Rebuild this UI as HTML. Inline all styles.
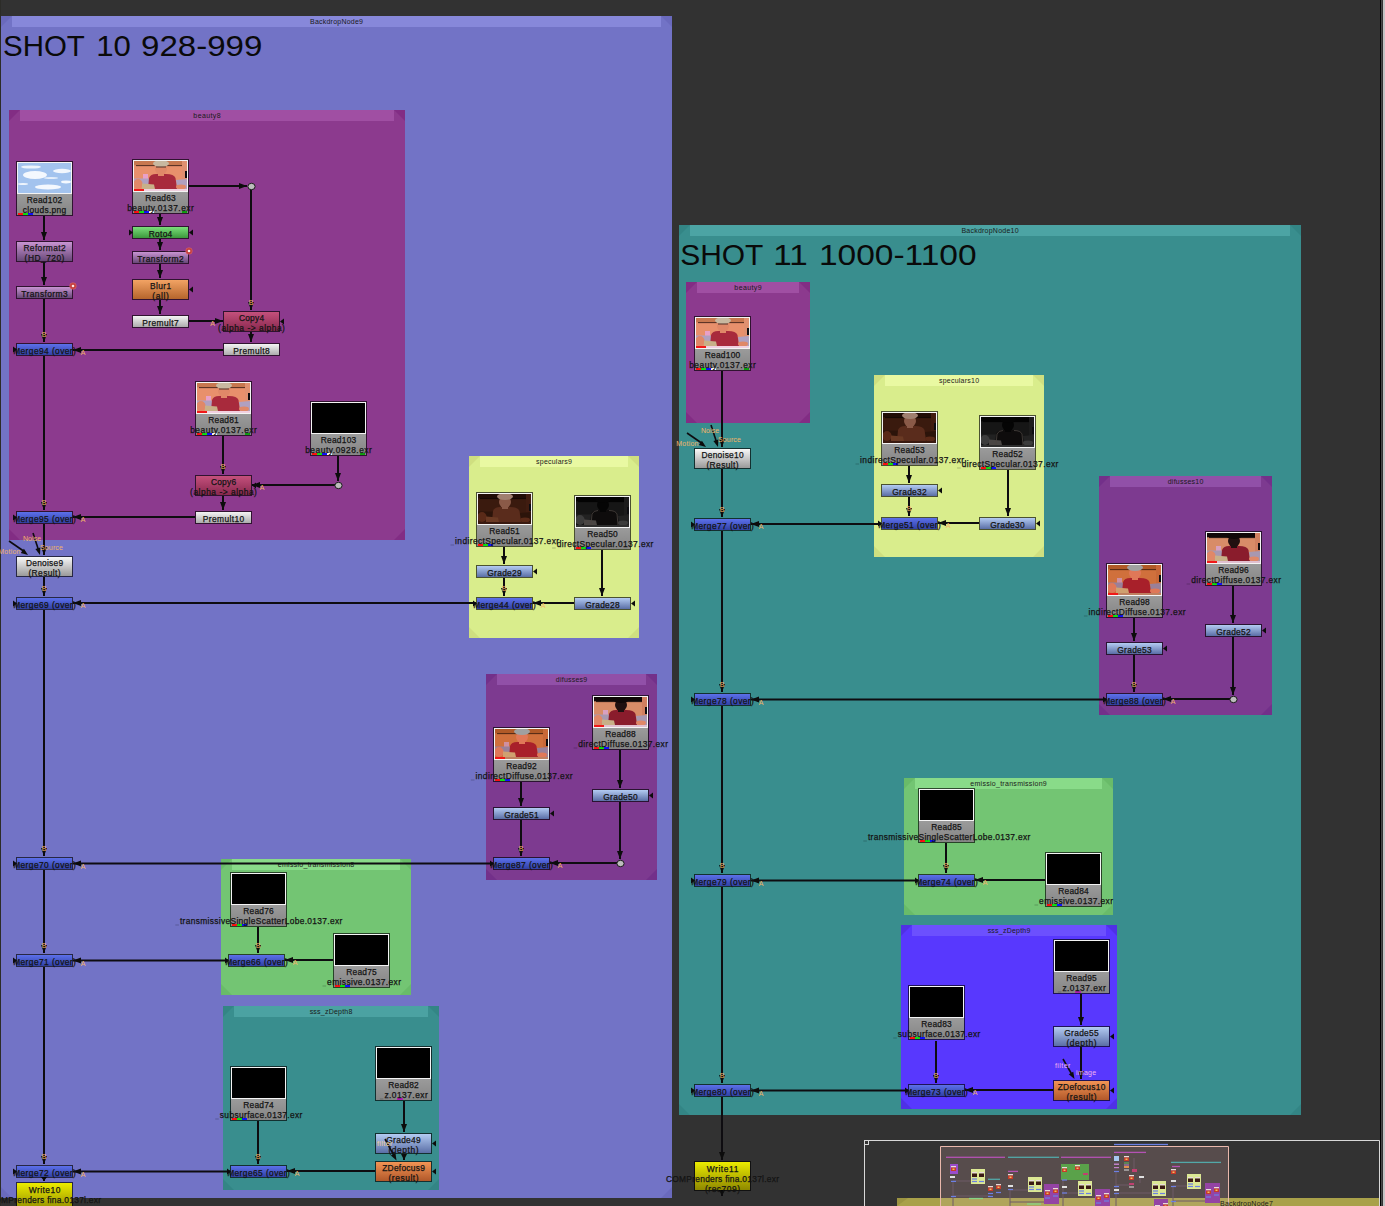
<!DOCTYPE html>
<html><head><meta charset="utf-8"><title>Node Graph</title>
<style>html,body{margin:0;padding:0;background:#323232;overflow:hidden;width:1385px;height:1206px}svg{display:block;position:absolute;left:0;top:0}text{font-family:"Liberation Sans", sans-serif}text.n{stroke:#141414;stroke-width:0.25px}</style></head><body>
<svg width="1385" height="1206" viewBox="0 0 1385 1206">
<defs>
<linearGradient id="g_read" x1="0" y1="0" x2="0" y2="1"><stop offset="0" stop-color="#bcbcbc"/><stop offset="1" stop-color="#858585"/></linearGradient>
<linearGradient id="g_merge" x1="0" y1="0" x2="0" y2="1"><stop offset="0" stop-color="#5c70ea"/><stop offset="1" stop-color="#3141a6"/></linearGradient>
<linearGradient id="g_grade" x1="0" y1="0" x2="0" y2="1"><stop offset="0" stop-color="#b3cbf2"/><stop offset="1" stop-color="#5a6ea6"/></linearGradient>
<linearGradient id="g_trans" x1="0" y1="0" x2="0" y2="1"><stop offset="0" stop-color="#c894d2"/><stop offset="1" stop-color="#684878"/></linearGradient>
<linearGradient id="g_roto" x1="0" y1="0" x2="0" y2="1"><stop offset="0" stop-color="#7ade7a"/><stop offset="1" stop-color="#3c983c"/></linearGradient>
<linearGradient id="g_blur" x1="0" y1="0" x2="0" y2="1"><stop offset="0" stop-color="#f2a364"/><stop offset="1" stop-color="#b5652c"/></linearGradient>
<linearGradient id="g_premult" x1="0" y1="0" x2="0" y2="1"><stop offset="0" stop-color="#f4f4f4"/><stop offset="1" stop-color="#acacac"/></linearGradient>
<linearGradient id="g_copy" x1="0" y1="0" x2="0" y2="1"><stop offset="0" stop-color="#c4507c"/><stop offset="1" stop-color="#88284e"/></linearGradient>
<linearGradient id="g_denoise" x1="0" y1="0" x2="0" y2="1"><stop offset="0" stop-color="#f8f8f8"/><stop offset="1" stop-color="#9a9a9a"/></linearGradient>
<linearGradient id="g_zdef" x1="0" y1="0" x2="0" y2="1"><stop offset="0" stop-color="#f29454"/><stop offset="1" stop-color="#b1582a"/></linearGradient>
<linearGradient id="g_write" x1="0" y1="0" x2="0" y2="1"><stop offset="0" stop-color="#ecec00"/><stop offset="1" stop-color="#8e8800"/></linearGradient>
<symbol id="t_clouds" viewBox="0 0 53 30">
<rect width="53" height="30" fill="#a3c3ee"/>
<ellipse cx="13" cy="4" rx="10" ry="1.6" fill="#eef4fc"/>
<ellipse cx="44" cy="8" rx="9" ry="2.2" fill="#f2f6fd"/>
<ellipse cx="17" cy="12" rx="12" ry="4" fill="#f4f8fe"/>
<ellipse cx="33" cy="15" rx="7" ry="1" fill="#e6eefa"/>
<ellipse cx="48" cy="19" rx="5" ry="1.4" fill="#f4f8fe"/>
<ellipse cx="5" cy="21" rx="5" ry="1" fill="#eef4fc"/>
<ellipse cx="30" cy="24" rx="13" ry="2.5" fill="#f4f8fe"/>
</symbol>
<symbol id="t_beauty" viewBox="0 0 53 30"><rect width="53" height="30" fill="#e8906c"/><rect x="0" y="0" width="53" height="4.3" fill="#c87850"/><rect x="2" y="4.2" width="47" height="0.9" fill="#402018"/><path d="M48 0H53V21L48 19Z" fill="#e09070"/><rect x="51" y="10" width="2" height="7" fill="#0c0c10"/><rect x="9" y="13" width="5" height="5" fill="#e8a0c8"/><path d="M0 17.5H15L16 26H0Z M42 19L53 18V28H43Z" fill="#b0a0c0"/><path d="M14 28L15 17Q16.5 13 22 13H32Q40 13 41.5 17L43 28Z" fill="#a82a3c"/><ellipse cx="27" cy="8" rx="6" ry="6" fill="#e08868"/><rect x="24" y="12" width="6" height="3" fill="#e08868"/><ellipse cx="27" cy="2.6" rx="8" ry="3.4" fill="#c8b8a0"/><ellipse cx="4" cy="23" rx="4.6" ry="5" fill="#e08868"/><path d="M8 22.5L20 23.5L21 28H8Z" fill="#c8b088"/><ellipse cx="47" cy="26" rx="5" ry="2.4" fill="#e08868"/><rect x="0" y="28" width="53" height="2" fill="#f0d0e0"/><rect x="0" y="28" width="10" height="2" fill="#f01818"/><rect x="22" y="5.5" width="10" height="1" fill="#503028"/></symbol>
<symbol id="t_idiff" viewBox="0 0 53 30"><rect width="53" height="30" fill="#d0703c"/><rect x="0" y="0" width="53" height="4.3" fill="#b05a28"/><rect x="2" y="4.2" width="47" height="0.9" fill="#402010"/><path d="M48 0H53V21L48 19Z" fill="#c86838"/><rect x="51" y="10" width="2" height="7" fill="#0c0c10"/><rect x="9" y="13" width="5" height="5" fill="#d090a0"/><path d="M0 17.5H15L16 26H0Z M42 19L53 18V28H43Z" fill="#9a8098"/><path d="M14 28L15 17Q16.5 13 22 13H32Q40 13 41.5 17L43 28Z" fill="#a8202a"/><ellipse cx="27" cy="8" rx="6" ry="6" fill="#e07858"/><rect x="24" y="12" width="6" height="3" fill="#e07858"/><ellipse cx="27" cy="2.6" rx="8" ry="3.4" fill="#a0a0a0"/><ellipse cx="4" cy="23" rx="4.6" ry="5" fill="#e07858"/><path d="M8 22.5L20 23.5L21 28H8Z" fill="#d0a070"/><ellipse cx="47" cy="26" rx="5" ry="2.4" fill="#e07858"/><rect x="0" y="28" width="53" height="2" fill="#c08060"/><rect x="0" y="28" width="10" height="2" fill="#f01818"/></symbol>
<symbol id="t_ddiff" viewBox="0 0 53 30"><rect width="53" height="30" fill="#d88c68"/><rect x="0" y="0" width="53" height="4.3" fill="#100808"/><rect x="2" y="4.2" width="47" height="0.9" fill="#100808"/><path d="M48 0H53V21L48 19Z" fill="#d08060"/><rect x="51" y="10" width="2" height="7" fill="#0c0c10"/><rect x="9" y="13" width="5" height="5" fill="#d8a0c0"/><path d="M0 17.5H15L16 26H0Z M42 19L53 18V28H43Z" fill="#a898b0"/><path d="M14 28L15 17Q16.5 13 22 13H32Q40 13 41.5 17L43 28Z" fill="#8a1c2c"/><ellipse cx="27" cy="8" rx="6" ry="6" fill="#201010"/><rect x="24" y="12" width="6" height="3" fill="#201010"/><ellipse cx="27" cy="2.6" rx="8" ry="3.4" fill="#100808"/><ellipse cx="4" cy="23" rx="4.6" ry="5" fill="#e08868"/><path d="M8 22.5L20 23.5L21 28H8Z" fill="#c8b088"/><ellipse cx="47" cy="26" rx="5" ry="2.4" fill="#e08868"/><rect x="0" y="28" width="53" height="2" fill="#e0c0d0"/><rect x="0" y="28" width="10" height="2" fill="#f01818"/></symbol>
<symbol id="t_ispec" viewBox="0 0 53 30"><rect width="53" height="30" fill="#3a1a0e"/><rect x="0" y="0" width="53" height="4.3" fill="#200c06"/><rect x="2" y="4.2" width="47" height="0.9" fill="#100604"/><path d="M48 0H53V21L48 19Z" fill="#401c10"/><rect x="51" y="10" width="2" height="7" fill="#0c0c10"/><rect x="9" y="13" width="5" height="5" fill="#3a1a0e"/><path d="M0 17.5H15L16 26H0Z M42 19L53 18V28H43Z" fill="#2c140a"/><path d="M14 28L15 17Q16.5 13 22 13H32Q40 13 41.5 17L43 28Z" fill="#5a2c1c"/><ellipse cx="27" cy="8" rx="6" ry="6" fill="#8a5a48"/><rect x="24" y="12" width="6" height="3" fill="#8a5a48"/><ellipse cx="27" cy="2.6" rx="8" ry="3.4" fill="#a08070"/><ellipse cx="4" cy="23" rx="4.6" ry="5" fill="#5a2a18"/><path d="M8 22.5L20 23.5L21 28H8Z" fill="#6a3a24"/><ellipse cx="47" cy="26" rx="5" ry="2.4" fill="#5a2a18"/><rect x="0" y="28" width="53" height="2" fill="#3a1a10"/></symbol>
<symbol id="t_dspec" viewBox="0 0 53 30"><rect width="53" height="30" fill="#161616"/><rect x="0" y="0" width="53" height="4.3" fill="#030303"/><rect x="2" y="4.2" width="47" height="0.9" fill="#020202"/><path d="M48 0H53V21L48 19Z" fill="#1c1c1c"/><rect x="51" y="10" width="2" height="7" fill="#0c0c10"/><rect x="9" y="13" width="5" height="5" fill="#161616"/><path d="M0 17.5H15L16 26H0Z M42 19L53 18V28H43Z" fill="#222222"/><path d="M14 28L15 17Q16.5 13 22 13H32Q40 13 41.5 17L43 28Z" fill="#0e0c0c"/><ellipse cx="27" cy="8" rx="6" ry="6" fill="#050505"/><rect x="24" y="12" width="6" height="3" fill="#050505"/><ellipse cx="27" cy="2.6" rx="8" ry="3.4" fill="#050505"/><ellipse cx="4" cy="23" rx="4.6" ry="5" fill="#3c3c3c"/><path d="M8 22.5L20 23.5L21 28H8Z" fill="#4a4644"/><ellipse cx="47" cy="26" rx="5" ry="2.4" fill="#3c3c3c"/><rect x="0" y="28" width="53" height="2" fill="#2e2e2e"/><path d="M15 28L16 17Q17.5 13.5 22 13.5" fill="none" stroke="#4a4440" stroke-width="0.8"/><path d="M42 28L41 17Q39.5 13.5 33 13.5" fill="none" stroke="#4a4440" stroke-width="0.8"/></symbol>
<symbol id="t_black" viewBox="0 0 53 30"><rect width="53" height="30" fill="#000"/></symbol>
</defs>
<rect x="0" y="0" width="1385" height="1206" fill="#323232"/>
<rect x="0" y="0" width="1" height="1206" fill="#2c2c28"/>
<rect x="1" y="16" width="671" height="1182" fill="#7273c6"/><rect x="12" y="16" width="649" height="11" fill="#8788da"/><path d="M1 16h11L1 27Z" fill="#6a6abd"/><path d="M672 16h-11L672 27Z" fill="#6a6abd"/><path d="M1 1198h11L1 1187Z" fill="#6a6abd"/><path d="M672 1198h-11L672 1187Z" fill="#6a6abd"/><text x="336.5" y="24.0" font-size="7.00" text-anchor="middle" fill="#1a1a1a" textLength="52.9" lengthAdjust="spacing">BackdropNode9</text>
<rect x="9" y="110" width="396" height="430" fill="#8c3a8e"/><rect x="20" y="110" width="374" height="11" fill="#a04fa3"/><path d="M9 110h11L9 121Z" fill="#822d84"/><path d="M405 110h-11L405 121Z" fill="#822d84"/><path d="M9 540h11L9 529Z" fill="#822d84"/><path d="M405 540h-11L405 529Z" fill="#822d84"/><text x="207.0" y="118.0" font-size="7.00" text-anchor="middle" fill="#1a1a1a" textLength="27.3" lengthAdjust="spacing">beauty8</text>
<rect x="469" y="456" width="170" height="182" fill="#d9ed8c"/><rect x="480" y="456" width="148" height="11" fill="#e9f9a2"/><path d="M469 456h11L469 467Z" fill="#cfdf80"/><path d="M639 456h-11L639 467Z" fill="#cfdf80"/><path d="M469 638h11L469 627Z" fill="#cfdf80"/><path d="M639 638h-11L639 627Z" fill="#cfdf80"/><text x="554.0" y="464.0" font-size="7.00" text-anchor="middle" fill="#1a1a1a" textLength="35.9" lengthAdjust="spacing">speculars9</text>
<rect x="486" y="674" width="171" height="206" fill="#7d3a90"/><rect x="497" y="674" width="149" height="11" fill="#9150a8"/><path d="M486 674h11L486 685Z" fill="#73308a"/><path d="M657 674h-11L657 685Z" fill="#73308a"/><path d="M486 880h11L486 869Z" fill="#73308a"/><path d="M657 880h-11L657 869Z" fill="#73308a"/><text x="571.5" y="682.0" font-size="7.00" text-anchor="middle" fill="#1a1a1a" textLength="31.3" lengthAdjust="spacing">difusses9</text>
<rect x="221" y="859" width="190" height="136" fill="#73c573"/><rect x="232" y="859" width="168" height="11" fill="#89db89"/><path d="M221 859h11L221 870Z" fill="#69bb69"/><path d="M411 859h-11L411 870Z" fill="#69bb69"/><path d="M221 995h11L221 984Z" fill="#69bb69"/><path d="M411 995h-11L411 984Z" fill="#69bb69"/><text x="316.0" y="867.0" font-size="7.00" text-anchor="middle" fill="#1a1a1a" textLength="76.5" lengthAdjust="spacing">emissio_transmission8</text>
<rect x="223" y="1006" width="216" height="184" fill="#398e8e"/><rect x="234" y="1006" width="194" height="11" fill="#4ba2a2"/><path d="M223 1006h11L223 1017Z" fill="#338585"/><path d="M439 1006h-11L439 1017Z" fill="#338585"/><path d="M223 1190h11L223 1179Z" fill="#338585"/><path d="M439 1190h-11L439 1179Z" fill="#338585"/><text x="331.0" y="1014.0" font-size="7.00" text-anchor="middle" fill="#1a1a1a" textLength="42.7" lengthAdjust="spacing">sss_zDepth8</text>
<rect x="679" y="225" width="622" height="890" fill="#398e8e"/><rect x="690" y="225" width="600" height="11" fill="#4ca4a4"/><path d="M679 225h11L679 236Z" fill="#338585"/><path d="M1301 225h-11L1301 236Z" fill="#338585"/><path d="M679 1115h11L679 1104Z" fill="#338585"/><path d="M1301 1115h-11L1301 1104Z" fill="#338585"/><text x="990.0" y="233.0" font-size="7.00" text-anchor="middle" fill="#1a1a1a" textLength="57.1" lengthAdjust="spacing">BackdropNode10</text>
<rect x="686" y="282" width="124" height="141" fill="#8c3a8e"/><rect x="697" y="282" width="102" height="11" fill="#a04fa3"/><path d="M686 282h11L686 293Z" fill="#822d84"/><path d="M810 282h-11L810 293Z" fill="#822d84"/><path d="M686 423h11L686 412Z" fill="#822d84"/><path d="M810 423h-11L810 412Z" fill="#822d84"/><text x="748.0" y="290.0" font-size="7.00" text-anchor="middle" fill="#1a1a1a" textLength="27.3" lengthAdjust="spacing">beauty9</text>
<rect x="874" y="375" width="170" height="182" fill="#d9ed8c"/><rect x="885" y="375" width="148" height="11" fill="#e9f9a2"/><path d="M874 375h11L874 386Z" fill="#cfdf80"/><path d="M1044 375h-11L1044 386Z" fill="#cfdf80"/><path d="M874 557h11L874 546Z" fill="#cfdf80"/><path d="M1044 557h-11L1044 546Z" fill="#cfdf80"/><text x="959.0" y="383.0" font-size="7.00" text-anchor="middle" fill="#1a1a1a" textLength="40.1" lengthAdjust="spacing">speculars10</text>
<rect x="1099" y="476" width="173" height="239" fill="#7d3a90"/><rect x="1110" y="476" width="151" height="11" fill="#9150a8"/><path d="M1099 476h11L1099 487Z" fill="#73308a"/><path d="M1272 476h-11L1272 487Z" fill="#73308a"/><path d="M1099 715h11L1099 704Z" fill="#73308a"/><path d="M1272 715h-11L1272 704Z" fill="#73308a"/><text x="1185.5" y="484.0" font-size="7.00" text-anchor="middle" fill="#1a1a1a" textLength="35.6" lengthAdjust="spacing">difusses10</text>
<rect x="904" y="778" width="209" height="137" fill="#73c573"/><rect x="915" y="778" width="187" height="11" fill="#89db89"/><path d="M904 778h11L904 789Z" fill="#69bb69"/><path d="M1113 778h-11L1113 789Z" fill="#69bb69"/><path d="M904 915h11L904 904Z" fill="#69bb69"/><path d="M1113 915h-11L1113 904Z" fill="#69bb69"/><text x="1008.5" y="786.0" font-size="7.00" text-anchor="middle" fill="#1a1a1a" textLength="76.5" lengthAdjust="spacing">emissio_transmission9</text>
<rect x="901" y="925" width="216" height="184" fill="#5838fe"/><rect x="912" y="925" width="194" height="11" fill="#6c50fe"/><path d="M901 925h11L901 936Z" fill="#4f30e6"/><path d="M1117 925h-11L1117 936Z" fill="#4f30e6"/><path d="M901 1109h11L901 1098Z" fill="#4f30e6"/><path d="M1117 1109h-11L1117 1098Z" fill="#4f30e6"/><text x="1009.0" y="933.0" font-size="7.00" text-anchor="middle" fill="#1a1a1a" textLength="42.7" lengthAdjust="spacing">sss_zDepth9</text>
<text x="3.00" y="56.3" font-size="30" fill="#0a0a0a" textLength="81.80" lengthAdjust="spacingAndGlyphs">SHOT</text>
<text x="96.20" y="56.3" font-size="30" fill="#0a0a0a" textLength="34.60" lengthAdjust="spacingAndGlyphs">10</text>
<text x="141.00" y="56.3" font-size="30" fill="#0a0a0a" textLength="121.40" lengthAdjust="spacingAndGlyphs">928-999</text>
<text x="680.20" y="265.4" font-size="30" fill="#0a0a0a" textLength="83.20" lengthAdjust="spacingAndGlyphs">SHOT</text>
<text x="773.20" y="265.4" font-size="30" fill="#0a0a0a" textLength="34.40" lengthAdjust="spacingAndGlyphs">11</text>
<text x="819.00" y="265.4" font-size="30" fill="#0a0a0a" textLength="157.60" lengthAdjust="spacingAndGlyphs">1000-1100</text>
<g><rect x="897" y="1198" width="482" height="8" fill="#a9a14a"/><path d="M897 1198h11L897 1206Z" fill="#9c9442"/><path d="M864.5 1206V1140.5H1379.5V1206" fill="none" stroke="#d8d8d8" stroke-width="1"/><rect x="864.5" y="1140.5" width="4" height="4" fill="none" stroke="#d8d8d8" stroke-width="1"/><rect x="941" y="1147" width="287" height="59" fill="#574c4c"/><rect x="941" y="1198" width="287" height="8" fill="#b0a55c"/><path d="M940.5 1206V1146.5H1228.5V1206" fill="none" stroke="#eab8ac" stroke-width="1"/><line x1="953" y1="1181" x2="953" y2="1206" stroke="#6e5a66" stroke-width="1"/><line x1="953" y1="1181" x2="972" y2="1181" stroke="#6e5a66" stroke-width="1"/><line x1="953" y1="1196" x2="990" y2="1196" stroke="#6e5a66" stroke-width="1"/><line x1="1010" y1="1189" x2="1010" y2="1206" stroke="#6e5a66" stroke-width="1"/><line x1="1010" y1="1190" x2="1030" y2="1190" stroke="#6e5a66" stroke-width="1"/><line x1="1010" y1="1202" x2="1046" y2="1202" stroke="#6e5a66" stroke-width="1"/><line x1="1063" y1="1179" x2="1063" y2="1206" stroke="#6e5a66" stroke-width="1"/><line x1="1063" y1="1193" x2="1080" y2="1193" stroke="#6e5a66" stroke-width="1"/><line x1="1116" y1="1171" x2="1116" y2="1206" stroke="#6e5a66" stroke-width="1"/><line x1="1116" y1="1185" x2="1130" y2="1185" stroke="#6e5a66" stroke-width="1"/><line x1="1116" y1="1193" x2="1154" y2="1193" stroke="#6e5a66" stroke-width="1"/><line x1="1173" y1="1186" x2="1173" y2="1206" stroke="#6e5a66" stroke-width="1"/><line x1="1173" y1="1186" x2="1188" y2="1186" stroke="#6e5a66" stroke-width="1"/><line x1="1173" y1="1201" x2="1206" y2="1201" stroke="#6e5a66" stroke-width="1"/><line x1="1134" y1="1158" x2="1134" y2="1170" stroke="#6e5a66" stroke-width="1"/><line x1="1140" y1="1178" x2="1140" y2="1183" stroke="#6e5a66" stroke-width="1"/><rect x="946" y="1156.65" width="59" height="1.3" fill="#b452b4"/><rect x="1008" y="1156.65" width="51" height="1.3" fill="#52a8a8"/><rect x="1061" y="1156.65" width="50" height="1.3" fill="#b452b4"/><rect x="1114" y="1151.75" width="32" height="1.3" fill="#b452b4"/><rect x="1114" y="1143.85" width="54" height="1.3" fill="#6c80e4"/><rect x="1171" y="1161.75" width="50" height="1.3" fill="#52a8a8"/><rect x="1008" y="1170.75" width="10" height="1.3" fill="#b452b4"/><rect x="988" y="1178.65" width="12" height="1.3" fill="#52a8a8"/><rect x="1172" y="1165.85" width="8" height="1.3" fill="#b452b4"/><rect x="969" y="1197.85" width="14" height="1.3" fill="#86d486"/><rect x="1027" y="1203.35" width="14" height="1.3" fill="#86d486"/><rect x="950" y="1164" width="8" height="10" fill="#9a4ccc"/><rect x="971" y="1169" width="14" height="15" fill="#dce894"/><rect x="1028" y="1177" width="14" height="15" fill="#dce894"/><rect x="1044" y="1184" width="15" height="20" fill="#9444a4"/><rect x="1061" y="1164" width="28" height="16" fill="#5aa24a"/><rect x="1078" y="1181" width="14" height="15" fill="#dce894"/><rect x="1095" y="1189" width="15" height="17" fill="#9444a4"/><rect x="1152" y="1181" width="14" height="15" fill="#dce894"/><rect x="1154" y="1199" width="14" height="7" fill="#9444a4"/><rect x="1187" y="1174" width="14" height="15" fill="#dce894"/><rect x="1205" y="1183" width="15" height="20" fill="#9444a4"/><rect x="972" y="1172" width="5" height="1.5" fill="#e8dcdc"/><rect x="972" y="1173.5" width="5" height="3.5" fill="#3a1a14"/><rect x="979" y="1172" width="5" height="1.5" fill="#e8dcdc"/><rect x="979" y="1173.5" width="5" height="3.5" fill="#3a1a14"/><rect x="972" y="1178.4" width="5" height="1.2" fill="#6c80e4"/><rect x="979" y="1180.9" width="5" height="1.2" fill="#6c80e4"/><rect x="972" y="1180.9" width="5" height="1.2" fill="#6c80e4"/><rect x="1029" y="1180" width="5" height="1.5" fill="#e8dcdc"/><rect x="1029" y="1181.5" width="5" height="3.5" fill="#3a1a14"/><rect x="1036" y="1180" width="5" height="1.5" fill="#e8dcdc"/><rect x="1036" y="1181.5" width="5" height="3.5" fill="#3a1a14"/><rect x="1029" y="1186.4" width="5" height="1.2" fill="#6c80e4"/><rect x="1036" y="1188.9" width="5" height="1.2" fill="#6c80e4"/><rect x="1029" y="1188.9" width="5" height="1.2" fill="#6c80e4"/><rect x="1079" y="1184" width="5" height="1.5" fill="#e8dcdc"/><rect x="1079" y="1185.5" width="5" height="3.5" fill="#3a1a14"/><rect x="1086" y="1184" width="5" height="1.5" fill="#e8dcdc"/><rect x="1086" y="1185.5" width="5" height="3.5" fill="#3a1a14"/><rect x="1079" y="1190.4" width="5" height="1.2" fill="#6c80e4"/><rect x="1086" y="1192.9" width="5" height="1.2" fill="#6c80e4"/><rect x="1079" y="1192.9" width="5" height="1.2" fill="#6c80e4"/><rect x="1153" y="1184" width="5" height="1.5" fill="#e8dcdc"/><rect x="1153" y="1185.5" width="5" height="3.5" fill="#3a1a14"/><rect x="1160" y="1184" width="5" height="1.5" fill="#e8dcdc"/><rect x="1160" y="1185.5" width="5" height="3.5" fill="#3a1a14"/><rect x="1153" y="1190.4" width="5" height="1.2" fill="#6c80e4"/><rect x="1160" y="1192.9" width="5" height="1.2" fill="#6c80e4"/><rect x="1153" y="1192.9" width="5" height="1.2" fill="#6c80e4"/><rect x="1188" y="1177" width="5" height="1.5" fill="#e8dcdc"/><rect x="1188" y="1178.5" width="5" height="3.5" fill="#3a1a14"/><rect x="1195" y="1177" width="5" height="1.5" fill="#e8dcdc"/><rect x="1195" y="1178.5" width="5" height="3.5" fill="#3a1a14"/><rect x="1188" y="1183.4" width="5" height="1.2" fill="#6c80e4"/><rect x="1195" y="1185.9" width="5" height="1.2" fill="#6c80e4"/><rect x="1188" y="1185.9" width="5" height="1.2" fill="#6c80e4"/><rect x="1045" y="1190" width="5" height="1.5" fill="#e8dcdc"/><rect x="1045" y="1191.5" width="5" height="3.5" fill="#c83a2a"/><rect x="1046.5" y="1192.5" width="2" height="1.5" fill="#f0c060"/><rect x="1053" y="1188" width="5" height="1.5" fill="#e8dcdc"/><rect x="1053" y="1189.5" width="5" height="3.5" fill="#c83a2a"/><rect x="1054.5" y="1190.5" width="2" height="1.5" fill="#f0c060"/><rect x="1045" y="1197.4" width="5" height="1.2" fill="#6c80e4"/><rect x="1053" y="1195.4" width="5" height="1.2" fill="#6c80e4"/><rect x="1096" y="1195" width="5" height="1.5" fill="#e8dcdc"/><rect x="1096" y="1196.5" width="5" height="3.5" fill="#c83a2a"/><rect x="1097.5" y="1197.5" width="2" height="1.5" fill="#f0c060"/><rect x="1104" y="1193" width="5" height="1.5" fill="#e8dcdc"/><rect x="1104" y="1194.5" width="5" height="3.5" fill="#c83a2a"/><rect x="1105.5" y="1195.5" width="2" height="1.5" fill="#f0c060"/><rect x="1096" y="1202.4" width="5" height="1.2" fill="#6c80e4"/><rect x="1104" y="1200.4" width="5" height="1.2" fill="#6c80e4"/><rect x="1206" y="1189" width="5" height="1.5" fill="#e8dcdc"/><rect x="1206" y="1190.5" width="5" height="3.5" fill="#c83a2a"/><rect x="1207.5" y="1191.5" width="2" height="1.5" fill="#f0c060"/><rect x="1214" y="1187" width="5" height="1.5" fill="#e8dcdc"/><rect x="1214" y="1188.5" width="5" height="3.5" fill="#c83a2a"/><rect x="1215.5" y="1189.5" width="2" height="1.5" fill="#f0c060"/><rect x="1206" y="1196.4" width="5" height="1.2" fill="#6c80e4"/><rect x="1214" y="1194.4" width="5" height="1.2" fill="#6c80e4"/><rect x="1155" y="1205" width="5" height="1.5" fill="#e8dcdc"/><rect x="1155" y="1206.5" width="5" height="3.5" fill="#c83a2a"/><rect x="1156.5" y="1207.5" width="2" height="1.5" fill="#f0c060"/><rect x="1163" y="1203" width="5" height="1.5" fill="#e8dcdc"/><rect x="1163" y="1204.5" width="5" height="3.5" fill="#c83a2a"/><rect x="1164.5" y="1205.5" width="2" height="1.5" fill="#f0c060"/><rect x="1155" y="1212.4" width="5" height="1.2" fill="#6c80e4"/><rect x="1163" y="1210.4" width="5" height="1.2" fill="#6c80e4"/><rect x="951" y="1166" width="5" height="1.5" fill="#e8dcdc"/><rect x="951" y="1167.5" width="5" height="3.5" fill="#c83a2a"/><rect x="952.5" y="1168.5" width="2" height="1.5" fill="#f0c060"/><rect x="1062" y="1167" width="5" height="1.5" fill="#e8dcdc"/><rect x="1062" y="1168.5" width="5" height="3.5" fill="#c83a2a"/><rect x="1063.5" y="1169.5" width="2" height="1.5" fill="#f0c060"/><rect x="1075" y="1165" width="5" height="1.5" fill="#e8dcdc"/><rect x="1075" y="1166.5" width="5" height="3.5" fill="#c83a2a"/><rect x="1076.5" y="1167.5" width="2" height="1.5" fill="#f0c060"/><rect x="1083" y="1173" width="5" height="2" fill="#c04070"/><rect x="988" y="1186" width="5" height="1.5" fill="#e8dcdc"/><rect x="988" y="1187.5" width="5" height="3.5" fill="#c83a2a"/><rect x="989.5" y="1188.5" width="2" height="1.5" fill="#f0c060"/><rect x="996" y="1184" width="5" height="1.5" fill="#e8dcdc"/><rect x="996" y="1185.5" width="5" height="3.5" fill="#c83a2a"/><rect x="997.5" y="1186.5" width="2" height="1.5" fill="#f0c060"/><rect x="1008" y="1174" width="5" height="1.5" fill="#e8dcdc"/><rect x="1008" y="1175.5" width="5" height="3.5" fill="#c83a2a"/><rect x="1009.5" y="1176.5" width="2" height="1.5" fill="#f0c060"/><rect x="1114" y="1156" width="5" height="1.5" fill="#e8dcdc"/><rect x="1114" y="1156" width="5" height="5" fill="#a8c8f0"/><rect x="1124" y="1156" width="5" height="1.5" fill="#e8dcdc"/><rect x="1124" y="1157.5" width="5" height="3.5" fill="#c83a2a"/><rect x="1125.5" y="1158.5" width="2" height="1.5" fill="#f0c060"/><rect x="1129" y="1175" width="5" height="1.5" fill="#e8dcdc"/><rect x="1129" y="1176.5" width="5" height="3.5" fill="#c83a2a"/><rect x="1130.5" y="1177.5" width="2" height="1.5" fill="#f0c060"/><rect x="1171" y="1169" width="5" height="1.5" fill="#e8dcdc"/><rect x="1171" y="1170.5" width="5" height="3.5" fill="#c83a2a"/><rect x="1172.5" y="1171.5" width="2" height="1.5" fill="#f0c060"/><rect x="950" y="1176" width="5" height="2" fill="#e0e0e0"/><rect x="1008" y="1185" width="5" height="2" fill="#e0e0e0"/><rect x="1114" y="1163.5" width="5" height="1.5" fill="#c080c8"/><rect x="1114" y="1167" width="5" height="1.2" fill="#c080c8"/><rect x="1124" y="1162.5" width="5" height="1" fill="#60c060"/><rect x="1124" y="1164.5" width="5" height="1" fill="#c080c8"/><rect x="1124" y="1166" width="5" height="2" fill="#e09050"/><rect x="1124" y="1169.5" width="5" height="1" fill="#e0e0e0"/><rect x="1132" y="1169" width="5" height="3" fill="#c04070"/><rect x="1139" y="1176" width="5" height="2" fill="#e0e0e0"/><rect x="1129" y="1183" width="5" height="2" fill="#c04070"/><rect x="1129" y="1186.5" width="5" height="1" fill="#e0e0e0"/><rect x="1114" y="1189" width="5" height="2" fill="#e0e0e0"/><rect x="1171" y="1180" width="5" height="2" fill="#e0e0e0"/><rect x="1062" y="1186" width="5" height="2" fill="#e0e0e0"/><rect x="951" y="1180.8" width="5" height="1.2" fill="#6c80e4"/><rect x="988" y="1192.9" width="5" height="1.2" fill="#6c80e4"/><rect x="996" y="1191.9" width="5" height="1.2" fill="#6c80e4"/><rect x="951" y="1195.9" width="5" height="1.2" fill="#6c80e4"/><rect x="988" y="1195.9" width="5" height="1.2" fill="#6c80e4"/><rect x="1008" y="1188.9" width="5" height="1.2" fill="#6c80e4"/><rect x="1114" y="1170.9" width="5" height="1.2" fill="#6c80e4"/><rect x="1114" y="1185.9" width="5" height="1.2" fill="#6c80e4"/><rect x="1114" y="1192.9" width="5" height="1.2" fill="#6c80e4"/><rect x="1171" y="1185.9" width="5" height="1.2" fill="#6c80e4"/><rect x="1171" y="1200.9" width="5" height="1.2" fill="#6c80e4"/><rect x="1062" y="1179.4" width="5" height="1.2" fill="#6c80e4"/><rect x="1062" y="1192.4" width="5" height="1.2" fill="#6c80e4"/><text x="1220.0" y="1206.0" font-size="7.00" text-anchor="start" fill="#1a1a1a" textLength="52.9" lengthAdjust="spacing">BackdropNode7</text></g>
<g stroke="#0e0c10" stroke-width="2" fill="none">
<polyline points="44,216 44,240"/>
<polyline points="44,262 44,285"/>
<polyline points="44,299 44,342"/>
<polyline points="44,356 44,510"/>
<polyline points="44,524 44,555"/>
<polyline points="44,577 44,596"/>
<polyline points="44,610 44,856"/>
<polyline points="44,870 44,953"/>
<polyline points="44,967 44,1164"/>
<polyline points="44,1178 44,1181"/>
<polyline points="223,350 73,350" stroke-width="1.8"/>
<polyline points="195,517 73,517" stroke-width="1.8"/>
<polyline points="476,603 73,603" stroke-width="1.8"/>
<polyline points="493,863.5 73,863.5" stroke-width="1.8"/>
<polyline points="228,960.5 73,960.5" stroke-width="1.8"/>
<polyline points="230,1171.5 73,1171.5" stroke-width="1.8"/>
<polyline points="160,214 160,225"/>
<polyline points="160,239 160,250"/>
<polyline points="160,264 160,278"/>
<polyline points="160,300 160,314"/>
<polyline points="189,321 223,321" stroke-width="1.8"/>
<polyline points="189,186 247,186" stroke-width="1.8"/>
<polyline points="251,189 251,310"/>
<polyline points="251,332 251,342"/>
<polyline points="223,436 223,474"/>
<polyline points="338,456 338,481"/>
<polyline points="335,485 252,485" stroke-width="1.8"/>
<polyline points="223,496 223,510"/>
<polyline points="504,547 504,564"/>
<polyline points="504,578 504,596"/>
<polyline points="602,550 602,596"/>
<polyline points="574,603 533,603" stroke-width="1.8"/>
<polyline points="521,782 521,806"/>
<polyline points="521,820 521,856"/>
<polyline points="620,750 620,788"/>
<polyline points="620,802 620,859"/>
<polyline points="617,863 550,863" stroke-width="1.8"/>
<polyline points="258,927 258,953"/>
<polyline points="333,960 285,960" stroke-width="1.8"/>
<polyline points="258,1121 258,1164"/>
<polyline points="404,1101 404,1132"/>
<polyline points="404,1154 404,1160"/>
<polyline points="375,1171 287,1171" stroke-width="1.8"/>
<polyline points="722,371 722,447"/>
<polyline points="722,469 722,517"/>
<polyline points="722,531 722,692"/>
<polyline points="722,706 722,873"/>
<polyline points="722,887 722,1083"/>
<polyline points="722,1097 722,1160"/>
<polyline points="722,1190 722,1196"/>
<polyline points="881,524 751,524" stroke-width="1.8"/>
<polyline points="1106,699.5 751,699.5" stroke-width="1.8"/>
<polyline points="918,880.5 751,880.5" stroke-width="1.8"/>
<polyline points="908,1090.5 751,1090.5" stroke-width="1.8"/>
<polyline points="909,466 909,483"/>
<polyline points="909,497 909,516"/>
<polyline points="1008,470 1008,516"/>
<polyline points="979,523 938,523" stroke-width="1.8"/>
<polyline points="1134,618 1134,641"/>
<polyline points="1134,655 1134,692"/>
<polyline points="1233,586 1233,623"/>
<polyline points="1233,637 1233,695"/>
<polyline points="1230,699 1163,699" stroke-width="1.8"/>
<polyline points="946,843 946,873"/>
<polyline points="1045,880 975,880" stroke-width="1.8"/>
<polyline points="936,1041 936,1083"/>
<polyline points="1081,994 1081,1025"/>
<polyline points="1081,1047 1081,1079"/>
<polyline points="1053,1090 965,1090" stroke-width="1.8"/>
</g>
<path d="M44.00 240.00L41.00 232.00L47.00 232.00Z" fill="#0c0c0c"/>
<path d="M44.00 285.00L41.00 277.00L47.00 277.00Z" fill="#0c0c0c"/>
<path d="M44.00 342.00L41.00 334.00L47.00 334.00Z" fill="#0c0c0c"/>
<path d="M44.00 510.00L41.00 502.00L47.00 502.00Z" fill="#0c0c0c"/>
<path d="M44.00 555.00L41.00 547.00L47.00 547.00Z" fill="#0c0c0c"/>
<path d="M44.00 596.00L41.00 588.00L47.00 588.00Z" fill="#0c0c0c"/>
<path d="M44.00 856.00L41.00 848.00L47.00 848.00Z" fill="#0c0c0c"/>
<path d="M44.00 953.00L41.00 945.00L47.00 945.00Z" fill="#0c0c0c"/>
<path d="M44.00 1164.00L41.00 1156.00L47.00 1156.00Z" fill="#0c0c0c"/>
<path d="M44.00 1181.00L41.00 1177.00L47.00 1177.00Z" fill="#0c0c0c"/>
<path d="M73.00 350.00L81.00 347.00L81.00 353.00Z" fill="#0c0c0c"/>
<path d="M73.00 517.00L81.00 514.00L81.00 520.00Z" fill="#0c0c0c"/>
<path d="M73.00 603.00L81.00 600.00L81.00 606.00Z" fill="#0c0c0c"/>
<path d="M73.00 863.50L81.00 860.50L81.00 866.50Z" fill="#0c0c0c"/>
<path d="M73.00 960.50L81.00 957.50L81.00 963.50Z" fill="#0c0c0c"/>
<path d="M73.00 1171.50L81.00 1168.50L81.00 1174.50Z" fill="#0c0c0c"/>
<path d="M160.00 225.00L157.00 217.00L163.00 217.00Z" fill="#0c0c0c"/>
<path d="M160.00 250.00L157.00 242.00L163.00 242.00Z" fill="#0c0c0c"/>
<path d="M160.00 278.00L157.00 270.00L163.00 270.00Z" fill="#0c0c0c"/>
<path d="M160.00 314.00L157.00 306.00L163.00 306.00Z" fill="#0c0c0c"/>
<path d="M223.00 321.00L215.00 324.00L215.00 318.00Z" fill="#0c0c0c"/>
<path d="M247.00 186.00L239.00 189.00L239.00 183.00Z" fill="#0c0c0c"/>
<path d="M251.00 310.00L248.00 302.00L254.00 302.00Z" fill="#0c0c0c"/>
<path d="M251.00 342.00L248.00 334.00L254.00 334.00Z" fill="#0c0c0c"/>
<path d="M223.00 474.00L220.00 466.00L226.00 466.00Z" fill="#0c0c0c"/>
<path d="M338.00 481.00L335.00 473.00L341.00 473.00Z" fill="#0c0c0c"/>
<path d="M252.00 485.00L260.00 482.00L260.00 488.00Z" fill="#0c0c0c"/>
<path d="M223.00 510.00L220.00 502.00L226.00 502.00Z" fill="#0c0c0c"/>
<path d="M504.00 564.00L501.00 556.00L507.00 556.00Z" fill="#0c0c0c"/>
<path d="M504.00 596.00L501.00 588.00L507.00 588.00Z" fill="#0c0c0c"/>
<path d="M602.00 596.00L599.00 588.00L605.00 588.00Z" fill="#0c0c0c"/>
<path d="M533.00 603.00L541.00 600.00L541.00 606.00Z" fill="#0c0c0c"/>
<path d="M521.00 806.00L518.00 798.00L524.00 798.00Z" fill="#0c0c0c"/>
<path d="M521.00 856.00L518.00 848.00L524.00 848.00Z" fill="#0c0c0c"/>
<path d="M620.00 788.00L617.00 780.00L623.00 780.00Z" fill="#0c0c0c"/>
<path d="M620.00 859.00L617.00 851.00L623.00 851.00Z" fill="#0c0c0c"/>
<path d="M550.00 863.00L558.00 860.00L558.00 866.00Z" fill="#0c0c0c"/>
<path d="M258.00 953.00L255.00 945.00L261.00 945.00Z" fill="#0c0c0c"/>
<path d="M285.00 960.00L293.00 957.00L293.00 963.00Z" fill="#0c0c0c"/>
<path d="M258.00 1164.00L255.00 1156.00L261.00 1156.00Z" fill="#0c0c0c"/>
<path d="M404.00 1132.00L401.00 1124.00L407.00 1124.00Z" fill="#0c0c0c"/>
<path d="M404.00 1160.00L401.00 1154.00L407.00 1154.00Z" fill="#0c0c0c"/>
<path d="M287.00 1171.00L295.00 1168.00L295.00 1174.00Z" fill="#0c0c0c"/>
<path d="M722.00 447.00L719.00 439.00L725.00 439.00Z" fill="#0c0c0c"/>
<path d="M722.00 517.00L719.00 509.00L725.00 509.00Z" fill="#0c0c0c"/>
<path d="M722.00 692.00L719.00 684.00L725.00 684.00Z" fill="#0c0c0c"/>
<path d="M722.00 873.00L719.00 865.00L725.00 865.00Z" fill="#0c0c0c"/>
<path d="M722.00 1083.00L719.00 1075.00L725.00 1075.00Z" fill="#0c0c0c"/>
<path d="M722.00 1160.00L719.00 1152.00L725.00 1152.00Z" fill="#0c0c0c"/>
<path d="M722.00 1196.00L719.00 1190.00L725.00 1190.00Z" fill="#0c0c0c"/>
<path d="M751.00 524.00L759.00 521.00L759.00 527.00Z" fill="#0c0c0c"/>
<path d="M751.00 699.50L759.00 696.50L759.00 702.50Z" fill="#0c0c0c"/>
<path d="M751.00 880.50L759.00 877.50L759.00 883.50Z" fill="#0c0c0c"/>
<path d="M751.00 1090.50L759.00 1087.50L759.00 1093.50Z" fill="#0c0c0c"/>
<path d="M909.00 483.00L906.00 475.00L912.00 475.00Z" fill="#0c0c0c"/>
<path d="M909.00 516.00L906.00 508.00L912.00 508.00Z" fill="#0c0c0c"/>
<path d="M1008.00 516.00L1005.00 508.00L1011.00 508.00Z" fill="#0c0c0c"/>
<path d="M938.00 523.00L946.00 520.00L946.00 526.00Z" fill="#0c0c0c"/>
<path d="M1134.00 641.00L1131.00 633.00L1137.00 633.00Z" fill="#0c0c0c"/>
<path d="M1134.00 692.00L1131.00 684.00L1137.00 684.00Z" fill="#0c0c0c"/>
<path d="M1233.00 623.00L1230.00 615.00L1236.00 615.00Z" fill="#0c0c0c"/>
<path d="M1233.00 695.00L1230.00 687.00L1236.00 687.00Z" fill="#0c0c0c"/>
<path d="M1163.00 699.00L1171.00 696.00L1171.00 702.00Z" fill="#0c0c0c"/>
<path d="M946.00 873.00L943.00 865.00L949.00 865.00Z" fill="#0c0c0c"/>
<path d="M975.00 880.00L983.00 877.00L983.00 883.00Z" fill="#0c0c0c"/>
<path d="M936.00 1083.00L933.00 1075.00L939.00 1075.00Z" fill="#0c0c0c"/>
<path d="M1081.00 1025.00L1078.00 1017.00L1084.00 1017.00Z" fill="#0c0c0c"/>
<path d="M1081.00 1079.00L1078.00 1071.00L1084.00 1071.00Z" fill="#0c0c0c"/>
<path d="M965.00 1090.00L973.00 1087.00L973.00 1093.00Z" fill="#0c0c0c"/>
<line x1="9" y1="541" x2="25" y2="552" stroke="#0e0c10" stroke-width="1.6"/>
<path d="M28.00 555.00L20.82 552.94L23.91 548.75Z" fill="#0c0c0c"/>
<line x1="33" y1="533" x2="38.5" y2="550" stroke="#0e0c10" stroke-width="1.6"/>
<path d="M40.00 555.00L35.40 549.12L40.36 547.54Z" fill="#0c0c0c"/>
<line x1="687" y1="433" x2="703" y2="444" stroke="#0e0c10" stroke-width="1.6"/>
<path d="M706.00 447.00L698.82 444.94L701.91 440.75Z" fill="#0c0c0c"/>
<line x1="711" y1="425" x2="716.5" y2="442" stroke="#0e0c10" stroke-width="1.6"/>
<path d="M718.00 447.00L713.40 441.12L718.36 439.54Z" fill="#0c0c0c"/>
<rect x="16" y="161" width="57" height="55" fill="#000" fill-opacity="0.66"/><rect x="17" y="162" width="55" height="53" fill="url(#g_read)"/><rect x="17" y="162" width="55" height="32" fill="#f4f4f4"/><use href="#t_clouds" x="18" y="163" width="53" height="30"/><rect x="18" y="213" width="5" height="2" fill="#ff1010"/><rect x="23" y="213" width="5" height="2" fill="#10e010"/><rect x="28" y="213" width="5" height="2" fill="#1010ff"/><text x="44.5" y="203.0" font-size="8.40" text-anchor="middle" fill="#141414" textLength="35.4" lengthAdjust="spacing" class="n">Read102</text><text x="44.5" y="212.5" font-size="8.40" text-anchor="middle" fill="#141414" textLength="43.4" lengthAdjust="spacing" class="n">clouds.png</text>
<rect x="16" y="241" width="57" height="21" fill="#000" fill-opacity="0.66"/><rect x="17" y="242" width="55" height="19" fill="url(#g_trans)"/><text x="44.5" y="251.0" font-size="8.40" text-anchor="middle" fill="#141414" textLength="42.2" lengthAdjust="spacing" class="n">Reformat2</text><text x="44.5" y="260.5" font-size="8.40" text-anchor="middle" fill="#141414" textLength="39.8" lengthAdjust="spacing" class="n">(HD_720)</text>
<rect x="16" y="286" width="57" height="13" fill="#000" fill-opacity="0.66"/><rect x="17" y="287" width="55" height="11" fill="url(#g_trans)"/><text x="44.5" y="296.5" font-size="8.40" text-anchor="middle" fill="#141414" textLength="46.3" lengthAdjust="spacing" class="n">Transform3</text><circle cx="73" cy="286" r="3.3" fill="#c43c3c" stroke="#e07070" stroke-width="0.5"/><circle cx="73" cy="286" r="1.3" fill="#fbeaea"/>
<rect x="16" y="343" width="57" height="13" fill="#000" fill-opacity="0.66"/><rect x="17" y="344" width="55" height="11" fill="url(#g_merge)"/><text x="44.5" y="353.5" font-size="8.40" text-anchor="middle" fill="#141414" textLength="62.7" lengthAdjust="spacing" class="n">Merge94 (over)</text><path d="M13 346.5l4 3l-4 3Z" fill="#0c0c0c"/>
<rect x="132" y="159" width="57" height="55" fill="#000" fill-opacity="0.66"/><rect x="133" y="160" width="55" height="53" fill="url(#g_read)"/><rect x="133" y="160" width="55" height="32" fill="#f4f4f4"/><use href="#t_beauty" x="134" y="161" width="53" height="30"/><rect x="134" y="211" width="5" height="2" fill="#ff1010"/><rect x="139" y="211" width="5" height="2" fill="#10e010"/><rect x="144" y="211" width="5" height="2" fill="#1010ff"/><rect x="149" y="211" width="5" height="2" fill="#ffffff"/><rect x="182" y="211" width="5" height="2" fill="#10a010"/><text x="160.5" y="201.0" font-size="8.40" text-anchor="middle" fill="#141414" textLength="30.3" lengthAdjust="spacing" class="n">Read63</text><text x="160.5" y="210.5" font-size="8.40" text-anchor="middle" fill="#141414" textLength="66.6" lengthAdjust="spacing" class="n">beauty.0137.exr</text>
<rect x="132" y="226" width="57" height="13" fill="#000" fill-opacity="0.66"/><rect x="133" y="227" width="55" height="11" fill="url(#g_roto)"/><text x="160.5" y="236.5" font-size="8.40" text-anchor="middle" fill="#141414" textLength="23.5" lengthAdjust="spacing" class="n">Roto4</text><path d="M189 232.5l4 -3v6Z" fill="#0c0c0c"/><path d="M129 229.5l4 3l-4 3Z" fill="#0c0c0c"/>
<rect x="132" y="251" width="57" height="13" fill="#000" fill-opacity="0.66"/><rect x="133" y="252" width="55" height="11" fill="url(#g_trans)"/><text x="160.5" y="261.5" font-size="8.40" text-anchor="middle" fill="#141414" textLength="46.3" lengthAdjust="spacing" class="n">Transform2</text><circle cx="189" cy="251" r="3.3" fill="#c43c3c" stroke="#e07070" stroke-width="0.5"/><circle cx="189" cy="251" r="1.3" fill="#fbeaea"/>
<rect x="132" y="279" width="57" height="21" fill="#000" fill-opacity="0.66"/><rect x="133" y="280" width="55" height="19" fill="url(#g_blur)"/><text x="160.5" y="289.0" font-size="8.40" text-anchor="middle" fill="#141414" textLength="21.2" lengthAdjust="spacing" class="n">Blur1</text><text x="160.5" y="298.5" font-size="8.40" text-anchor="middle" fill="#141414" textLength="16.5" lengthAdjust="spacing" class="n">(all)</text><path d="M189 289.5l4 -3v6Z" fill="#0c0c0c"/>
<rect x="132" y="315" width="57" height="13" fill="#000" fill-opacity="0.66"/><rect x="133" y="316" width="55" height="11" fill="url(#g_premult)"/><text x="160.5" y="325.5" font-size="8.40" text-anchor="middle" fill="#141414" textLength="36.3" lengthAdjust="spacing" class="n">Premult7</text>
<rect x="223" y="311" width="57" height="21" fill="#000" fill-opacity="0.66"/><rect x="224" y="312" width="55" height="19" fill="url(#g_copy)"/><text x="251.5" y="321.0" font-size="8.40" text-anchor="middle" fill="#141414" textLength="25.2" lengthAdjust="spacing" class="n">Copy4</text><text x="251.5" y="330.5" font-size="8.40" text-anchor="middle" fill="#141414" textLength="66.8" lengthAdjust="spacing" class="n">(alpha -&gt; alpha)</text><path d="M280 321.5l4 -3v6Z" fill="#0c0c0c"/>
<rect x="223" y="343" width="57" height="13" fill="#000" fill-opacity="0.66"/><rect x="224" y="344" width="55" height="11" fill="url(#g_premult)"/><text x="251.5" y="353.5" font-size="8.40" text-anchor="middle" fill="#141414" textLength="36.3" lengthAdjust="spacing" class="n">Premult8</text>
<rect x="195" y="381" width="57" height="55" fill="#000" fill-opacity="0.66"/><rect x="196" y="382" width="55" height="53" fill="url(#g_read)"/><rect x="196" y="382" width="55" height="32" fill="#f4f4f4"/><use href="#t_beauty" x="197" y="383" width="53" height="30"/><rect x="197" y="433" width="5" height="2" fill="#ff1010"/><rect x="202" y="433" width="5" height="2" fill="#10e010"/><rect x="207" y="433" width="5" height="2" fill="#1010ff"/><rect x="212" y="433" width="5" height="2" fill="#ffffff"/><rect x="245" y="433" width="5" height="2" fill="#10a010"/><text x="223.5" y="423.0" font-size="8.40" text-anchor="middle" fill="#141414" textLength="30.3" lengthAdjust="spacing" class="n">Read81</text><text x="223.5" y="432.5" font-size="8.40" text-anchor="middle" fill="#141414" textLength="66.6" lengthAdjust="spacing" class="n">beauty.0137.exr</text>
<rect x="310" y="401" width="57" height="55" fill="#000" fill-opacity="0.66"/><rect x="311" y="402" width="55" height="53" fill="url(#g_read)"/><rect x="311" y="402" width="55" height="32" fill="#f4f4f4"/><use href="#t_black" x="312" y="403" width="53" height="30"/><rect x="312" y="453" width="5" height="2" fill="#ff1010"/><rect x="317" y="453" width="5" height="2" fill="#10e010"/><rect x="322" y="453" width="5" height="2" fill="#1010ff"/><rect x="327" y="453" width="5" height="2" fill="#ffffff"/><rect x="360" y="453" width="5" height="2" fill="#10a010"/><text x="338.5" y="443.0" font-size="8.40" text-anchor="middle" fill="#141414" textLength="35.4" lengthAdjust="spacing" class="n">Read103</text><text x="338.5" y="452.5" font-size="8.40" text-anchor="middle" fill="#141414" textLength="66.6" lengthAdjust="spacing" class="n">beauty.0928.exr</text>
<rect x="195" y="475" width="57" height="21" fill="#000" fill-opacity="0.66"/><rect x="196" y="476" width="55" height="19" fill="url(#g_copy)"/><text x="223.5" y="485.0" font-size="8.40" text-anchor="middle" fill="#141414" textLength="25.2" lengthAdjust="spacing" class="n">Copy6</text><text x="223.5" y="494.5" font-size="8.40" text-anchor="middle" fill="#141414" textLength="66.8" lengthAdjust="spacing" class="n">(alpha -&gt; alpha)</text><path d="M252 485.5l4 -3v6Z" fill="#0c0c0c"/>
<rect x="195" y="511" width="57" height="13" fill="#000" fill-opacity="0.66"/><rect x="196" y="512" width="55" height="11" fill="url(#g_premult)"/><text x="223.5" y="521.5" font-size="8.40" text-anchor="middle" fill="#141414" textLength="41.4" lengthAdjust="spacing" class="n">Premult10</text>
<rect x="16" y="511" width="57" height="13" fill="#000" fill-opacity="0.66"/><rect x="17" y="512" width="55" height="11" fill="url(#g_merge)"/><text x="44.5" y="521.5" font-size="8.40" text-anchor="middle" fill="#141414" textLength="62.7" lengthAdjust="spacing" class="n">Merge95 (over)</text><path d="M13 514.5l4 3l-4 3Z" fill="#0c0c0c"/>
<rect x="16" y="556" width="57" height="21" fill="#000" fill-opacity="0.66"/><rect x="17" y="557" width="55" height="19" fill="url(#g_denoise)"/><text x="44.5" y="566.0" font-size="8.40" text-anchor="middle" fill="#141414" textLength="37.1" lengthAdjust="spacing" class="n">Denoise9</text><text x="44.5" y="575.5" font-size="8.40" text-anchor="middle" fill="#141414" textLength="32.2" lengthAdjust="spacing" class="n">(Result)</text>
<rect x="16" y="597" width="57" height="13" fill="#000" fill-opacity="0.66"/><rect x="17" y="598" width="55" height="11" fill="url(#g_merge)"/><text x="44.5" y="607.5" font-size="8.40" text-anchor="middle" fill="#141414" textLength="62.7" lengthAdjust="spacing" class="n">Merge69 (over)</text><path d="M13 600.5l4 3l-4 3Z" fill="#0c0c0c"/>
<rect x="16" y="857" width="57" height="13" fill="#000" fill-opacity="0.66"/><rect x="17" y="858" width="55" height="11" fill="url(#g_merge)"/><text x="44.5" y="867.5" font-size="8.40" text-anchor="middle" fill="#141414" textLength="62.7" lengthAdjust="spacing" class="n">Merge70 (over)</text><path d="M13 860.5l4 3l-4 3Z" fill="#0c0c0c"/>
<rect x="16" y="954" width="57" height="13" fill="#000" fill-opacity="0.66"/><rect x="17" y="955" width="55" height="11" fill="url(#g_merge)"/><text x="44.5" y="964.5" font-size="8.40" text-anchor="middle" fill="#141414" textLength="62.7" lengthAdjust="spacing" class="n">Merge71 (over)</text><path d="M13 957.5l4 3l-4 3Z" fill="#0c0c0c"/>
<rect x="16" y="1165" width="57" height="13" fill="#000" fill-opacity="0.66"/><rect x="17" y="1166" width="55" height="11" fill="url(#g_merge)"/><text x="44.5" y="1175.5" font-size="8.40" text-anchor="middle" fill="#141414" textLength="62.7" lengthAdjust="spacing" class="n">Merge72 (over)</text><path d="M13 1168.5l4 3l-4 3Z" fill="#0c0c0c"/>
<rect x="16" y="1182" width="57" height="30" fill="#000" fill-opacity="0.66"/><rect x="17" y="1183" width="55" height="28" fill="url(#g_write)"/><text x="44.5" y="1193.3" font-size="8.40" text-anchor="middle" fill="#141414" textLength="31.6" lengthAdjust="spacing" class="n">Write10</text><text x="44.5" y="1202.9" font-size="8.40" text-anchor="middle" fill="#141414" textLength="113.0" lengthAdjust="spacing" class="n">COMPrenders fina.0137l.exr</text>
<rect x="476" y="492" width="57" height="55" fill="#000" fill-opacity="0.66"/><rect x="477" y="493" width="55" height="53" fill="url(#g_read)"/><rect x="477" y="493" width="55" height="32" fill="#f4f4f4"/><use href="#t_ispec" x="478" y="494" width="53" height="30"/><rect x="478" y="544" width="5" height="2" fill="#ff1010"/><rect x="483" y="544" width="5" height="2" fill="#10e010"/><rect x="488" y="544" width="5" height="2" fill="#1010ff"/><text x="504.5" y="534.0" font-size="8.40" text-anchor="middle" fill="#141414" textLength="30.3" lengthAdjust="spacing" class="n">Read51</text><rect x="450.5" y="544.5" width="3.6" height="1" fill="#000" fill-opacity="0.22"/><text x="455.1" y="543.5" font-size="8.40" text-anchor="start" fill="#141414" textLength="103.9" lengthAdjust="spacing" class="n">indirectSpecular.0137.exr</text>
<rect x="574" y="495" width="57" height="55" fill="#000" fill-opacity="0.66"/><rect x="575" y="496" width="55" height="53" fill="url(#g_read)"/><rect x="575" y="496" width="55" height="32" fill="#f4f4f4"/><use href="#t_dspec" x="576" y="497" width="53" height="30"/><rect x="576" y="547" width="5" height="2" fill="#ff1010"/><rect x="581" y="547" width="5" height="2" fill="#10e010"/><rect x="586" y="547" width="5" height="2" fill="#1010ff"/><text x="602.5" y="537.0" font-size="8.40" text-anchor="middle" fill="#141414" textLength="30.3" lengthAdjust="spacing" class="n">Read50</text><rect x="552.1" y="547.5" width="3.6" height="1" fill="#000" fill-opacity="0.22"/><text x="556.7" y="546.5" font-size="8.40" text-anchor="start" fill="#141414" textLength="96.6" lengthAdjust="spacing" class="n">directSpecular.0137.exr</text>
<rect x="476" y="565" width="57" height="13" fill="#000" fill-opacity="0.66"/><rect x="477" y="566" width="55" height="11" fill="url(#g_grade)"/><text x="504.5" y="575.5" font-size="8.40" text-anchor="middle" fill="#141414" textLength="34.4" lengthAdjust="spacing" class="n">Grade29</text><path d="M533 571.5l4 -3v6Z" fill="#0c0c0c"/>
<rect x="476" y="597" width="57" height="13" fill="#000" fill-opacity="0.66"/><rect x="477" y="598" width="55" height="11" fill="url(#g_merge)"/><text x="504.5" y="607.5" font-size="8.40" text-anchor="middle" fill="#141414" textLength="62.7" lengthAdjust="spacing" class="n">Merge44 (over)</text><path d="M473 600.5l4 3l-4 3Z" fill="#0c0c0c"/>
<rect x="574" y="597" width="57" height="13" fill="#000" fill-opacity="0.66"/><rect x="575" y="598" width="55" height="11" fill="url(#g_grade)"/><text x="602.5" y="607.5" font-size="8.40" text-anchor="middle" fill="#141414" textLength="34.4" lengthAdjust="spacing" class="n">Grade28</text><path d="M631 603.5l4 -3v6Z" fill="#0c0c0c"/>
<rect x="493" y="727" width="57" height="55" fill="#000" fill-opacity="0.66"/><rect x="494" y="728" width="55" height="53" fill="url(#g_read)"/><rect x="494" y="728" width="55" height="32" fill="#f4f4f4"/><use href="#t_idiff" x="495" y="729" width="53" height="30"/><rect x="495" y="779" width="5" height="2" fill="#ff1010"/><rect x="500" y="779" width="5" height="2" fill="#10e010"/><rect x="505" y="779" width="5" height="2" fill="#1010ff"/><text x="521.5" y="769.0" font-size="8.40" text-anchor="middle" fill="#141414" textLength="30.3" lengthAdjust="spacing" class="n">Read92</text><rect x="470.9" y="779.5" width="3.6" height="1" fill="#000" fill-opacity="0.22"/><text x="475.5" y="778.5" font-size="8.40" text-anchor="start" fill="#141414" textLength="97.0" lengthAdjust="spacing" class="n">indirectDiffuse.0137.exr</text>
<rect x="592" y="695" width="57" height="55" fill="#000" fill-opacity="0.66"/><rect x="593" y="696" width="55" height="53" fill="url(#g_read)"/><rect x="593" y="696" width="55" height="32" fill="#f4f4f4"/><use href="#t_ddiff" x="594" y="697" width="53" height="30"/><rect x="594" y="747" width="5" height="2" fill="#ff1010"/><rect x="599" y="747" width="5" height="2" fill="#10e010"/><rect x="604" y="747" width="5" height="2" fill="#1010ff"/><text x="620.5" y="737.0" font-size="8.40" text-anchor="middle" fill="#141414" textLength="30.3" lengthAdjust="spacing" class="n">Read88</text><rect x="573.6" y="747.5" width="3.6" height="1" fill="#000" fill-opacity="0.22"/><text x="578.2" y="746.5" font-size="8.40" text-anchor="start" fill="#141414" textLength="89.8" lengthAdjust="spacing" class="n">directDiffuse.0137.exr</text>
<rect x="592" y="789" width="57" height="13" fill="#000" fill-opacity="0.66"/><rect x="593" y="790" width="55" height="11" fill="url(#g_grade)"/><text x="620.5" y="799.5" font-size="8.40" text-anchor="middle" fill="#141414" textLength="34.4" lengthAdjust="spacing" class="n">Grade50</text><path d="M649 795.5l4 -3v6Z" fill="#0c0c0c"/>
<rect x="493" y="807" width="57" height="13" fill="#000" fill-opacity="0.66"/><rect x="494" y="808" width="55" height="11" fill="url(#g_grade)"/><text x="521.5" y="817.5" font-size="8.40" text-anchor="middle" fill="#141414" textLength="34.4" lengthAdjust="spacing" class="n">Grade51</text><path d="M550 813.5l4 -3v6Z" fill="#0c0c0c"/>
<rect x="493" y="857" width="57" height="13" fill="#000" fill-opacity="0.66"/><rect x="494" y="858" width="55" height="11" fill="url(#g_merge)"/><text x="521.5" y="867.5" font-size="8.40" text-anchor="middle" fill="#141414" textLength="62.7" lengthAdjust="spacing" class="n">Merge87 (over)</text><path d="M490 860.5l4 3l-4 3Z" fill="#0c0c0c"/>
<rect x="230" y="872" width="57" height="55" fill="#000" fill-opacity="0.66"/><rect x="231" y="873" width="55" height="53" fill="url(#g_read)"/><rect x="231" y="873" width="55" height="32" fill="#f4f4f4"/><use href="#t_black" x="232" y="874" width="53" height="30"/><rect x="232" y="924" width="5" height="2" fill="#ff1010"/><rect x="237" y="924" width="5" height="2" fill="#10e010"/><rect x="242" y="924" width="5" height="2" fill="#1010ff"/><text x="258.5" y="914.0" font-size="8.40" text-anchor="middle" fill="#141414" textLength="30.3" lengthAdjust="spacing" class="n">Read76</text><rect x="175.3" y="924.5" width="3.6" height="1" fill="#000" fill-opacity="0.22"/><text x="179.9" y="923.5" font-size="8.40" text-anchor="start" fill="#141414" textLength="162.4" lengthAdjust="spacing" class="n">transmissiveSingleScatterLobe.0137.exr</text>
<rect x="228" y="954" width="57" height="13" fill="#000" fill-opacity="0.66"/><rect x="229" y="955" width="55" height="11" fill="url(#g_merge)"/><text x="256.5" y="964.5" font-size="8.40" text-anchor="middle" fill="#141414" textLength="62.7" lengthAdjust="spacing" class="n">Merge66 (over)</text><path d="M225 957.5l4 3l-4 3Z" fill="#0c0c0c"/>
<rect x="333" y="933" width="57" height="55" fill="#000" fill-opacity="0.66"/><rect x="334" y="934" width="55" height="53" fill="url(#g_read)"/><rect x="334" y="934" width="55" height="32" fill="#f4f4f4"/><use href="#t_black" x="335" y="935" width="53" height="30"/><rect x="335" y="985" width="5" height="2" fill="#ff1010"/><rect x="340" y="985" width="5" height="2" fill="#10e010"/><rect x="345" y="985" width="5" height="2" fill="#1010ff"/><text x="361.5" y="975.0" font-size="8.40" text-anchor="middle" fill="#141414" textLength="30.3" lengthAdjust="spacing" class="n">Read75</text><rect x="322.5" y="985.5" width="3.6" height="1" fill="#000" fill-opacity="0.22"/><text x="327.1" y="984.5" font-size="8.40" text-anchor="start" fill="#141414" textLength="73.9" lengthAdjust="spacing" class="n">emissive.0137.exr</text>
<rect x="230" y="1066" width="57" height="55" fill="#000" fill-opacity="0.66"/><rect x="231" y="1067" width="55" height="53" fill="url(#g_read)"/><rect x="231" y="1067" width="55" height="32" fill="#f4f4f4"/><use href="#t_black" x="232" y="1068" width="53" height="30"/><rect x="232" y="1118" width="5" height="2" fill="#ff1010"/><rect x="237" y="1118" width="5" height="2" fill="#10e010"/><rect x="242" y="1118" width="5" height="2" fill="#1010ff"/><text x="258.5" y="1108.0" font-size="8.40" text-anchor="middle" fill="#141414" textLength="30.3" lengthAdjust="spacing" class="n">Read74</text><rect x="215.2" y="1118.5" width="3.6" height="1" fill="#000" fill-opacity="0.22"/><text x="219.8" y="1117.5" font-size="8.40" text-anchor="start" fill="#141414" textLength="82.5" lengthAdjust="spacing" class="n">subsurface.0137.exr</text>
<rect x="375" y="1046" width="57" height="55" fill="#000" fill-opacity="0.66"/><rect x="376" y="1047" width="55" height="53" fill="url(#g_read)"/><rect x="376" y="1047" width="55" height="32" fill="#f4f4f4"/><use href="#t_black" x="377" y="1048" width="53" height="30"/><rect x="397" y="1098" width="6" height="2" fill="#b020b0"/><text x="403.5" y="1088.0" font-size="8.40" text-anchor="middle" fill="#141414" textLength="30.3" lengthAdjust="spacing" class="n">Read82</text><rect x="379.8" y="1098.5" width="3.6" height="1" fill="#000" fill-opacity="0.22"/><text x="384.4" y="1097.5" font-size="8.40" text-anchor="start" fill="#141414" textLength="43.3" lengthAdjust="spacing" class="n">z.0137.exr</text>
<rect x="375" y="1133" width="57" height="21" fill="#000" fill-opacity="0.66"/><rect x="376" y="1134" width="55" height="19" fill="url(#g_grade)"/><text x="403.5" y="1143.0" font-size="8.40" text-anchor="middle" fill="#141414" textLength="34.4" lengthAdjust="spacing" class="n">Grade49</text><text x="403.5" y="1152.5" font-size="8.40" text-anchor="middle" fill="#141414" textLength="30.2" lengthAdjust="spacing" class="n">(depth)</text><path d="M432 1143.5l4 -3v6Z" fill="#0c0c0c"/>
<rect x="375" y="1161" width="57" height="21" fill="#000" fill-opacity="0.66"/><rect x="376" y="1162" width="55" height="19" fill="url(#g_zdef)"/><text x="403.5" y="1171.0" font-size="8.40" text-anchor="middle" fill="#141414" textLength="42.6" lengthAdjust="spacing" class="n">ZDefocus9</text><text x="403.5" y="1180.5" font-size="8.40" text-anchor="middle" fill="#141414" textLength="30.0" lengthAdjust="spacing" class="n">(result)</text><path d="M432 1171.5l4 -3v6Z" fill="#0c0c0c"/>
<rect x="230" y="1165" width="57" height="13" fill="#000" fill-opacity="0.66"/><rect x="231" y="1166" width="55" height="11" fill="url(#g_merge)"/><text x="258.5" y="1175.5" font-size="8.40" text-anchor="middle" fill="#141414" textLength="62.7" lengthAdjust="spacing" class="n">Merge65 (over)</text><path d="M227 1168.5l4 3l-4 3Z" fill="#0c0c0c"/>
<rect x="694" y="316" width="57" height="55" fill="#000" fill-opacity="0.66"/><rect x="695" y="317" width="55" height="53" fill="url(#g_read)"/><rect x="695" y="317" width="55" height="32" fill="#f4f4f4"/><use href="#t_beauty" x="696" y="318" width="53" height="30"/><rect x="696" y="368" width="5" height="2" fill="#ff1010"/><rect x="701" y="368" width="5" height="2" fill="#10e010"/><rect x="706" y="368" width="5" height="2" fill="#1010ff"/><rect x="711" y="368" width="5" height="2" fill="#ffffff"/><rect x="744" y="368" width="5" height="2" fill="#10a010"/><text x="722.5" y="358.0" font-size="8.40" text-anchor="middle" fill="#141414" textLength="35.4" lengthAdjust="spacing" class="n">Read100</text><text x="722.5" y="367.5" font-size="8.40" text-anchor="middle" fill="#141414" textLength="66.6" lengthAdjust="spacing" class="n">beauty.0137.exr</text>
<rect x="694" y="448" width="57" height="21" fill="#000" fill-opacity="0.66"/><rect x="695" y="449" width="55" height="19" fill="url(#g_denoise)"/><text x="722.5" y="458.0" font-size="8.40" text-anchor="middle" fill="#141414" textLength="42.2" lengthAdjust="spacing" class="n">Denoise10</text><text x="722.5" y="467.5" font-size="8.40" text-anchor="middle" fill="#141414" textLength="32.2" lengthAdjust="spacing" class="n">(Result)</text>
<rect x="694" y="518" width="57" height="13" fill="#000" fill-opacity="0.66"/><rect x="695" y="519" width="55" height="11" fill="url(#g_merge)"/><text x="722.5" y="528.5" font-size="8.40" text-anchor="middle" fill="#141414" textLength="62.7" lengthAdjust="spacing" class="n">Merge77 (over)</text><path d="M691 521.5l4 3l-4 3Z" fill="#0c0c0c"/>
<rect x="694" y="693" width="57" height="13" fill="#000" fill-opacity="0.66"/><rect x="695" y="694" width="55" height="11" fill="url(#g_merge)"/><text x="722.5" y="703.5" font-size="8.40" text-anchor="middle" fill="#141414" textLength="62.7" lengthAdjust="spacing" class="n">Merge78 (over)</text><path d="M691 696.5l4 3l-4 3Z" fill="#0c0c0c"/>
<rect x="694" y="874" width="57" height="13" fill="#000" fill-opacity="0.66"/><rect x="695" y="875" width="55" height="11" fill="url(#g_merge)"/><text x="722.5" y="884.5" font-size="8.40" text-anchor="middle" fill="#141414" textLength="62.7" lengthAdjust="spacing" class="n">Merge79 (over)</text><path d="M691 877.5l4 3l-4 3Z" fill="#0c0c0c"/>
<rect x="694" y="1084" width="57" height="13" fill="#000" fill-opacity="0.66"/><rect x="695" y="1085" width="55" height="11" fill="url(#g_merge)"/><text x="722.5" y="1094.5" font-size="8.40" text-anchor="middle" fill="#141414" textLength="62.7" lengthAdjust="spacing" class="n">Merge80 (over)</text><path d="M691 1087.5l4 3l-4 3Z" fill="#0c0c0c"/>
<rect x="694" y="1161" width="57" height="30" fill="#000" fill-opacity="0.66"/><rect x="695" y="1162" width="55" height="28" fill="url(#g_write)"/><text x="722.5" y="1172.3" font-size="8.40" text-anchor="middle" fill="#141414" textLength="31.6" lengthAdjust="spacing" class="n">Write11</text><text x="722.5" y="1181.9" font-size="8.40" text-anchor="middle" fill="#141414" textLength="113.0" lengthAdjust="spacing" class="n">COMPrenders fina.0137l.exr</text><text x="722.5" y="1191.5" font-size="8.40" text-anchor="middle" fill="#141414" textLength="34.9" lengthAdjust="spacing" class="n">(rec709)</text>
<rect x="881" y="411" width="57" height="55" fill="#000" fill-opacity="0.66"/><rect x="882" y="412" width="55" height="53" fill="url(#g_read)"/><rect x="882" y="412" width="55" height="32" fill="#f4f4f4"/><use href="#t_ispec" x="883" y="413" width="53" height="30"/><rect x="883" y="463" width="5" height="2" fill="#ff1010"/><rect x="888" y="463" width="5" height="2" fill="#10e010"/><rect x="893" y="463" width="5" height="2" fill="#1010ff"/><text x="909.5" y="453.0" font-size="8.40" text-anchor="middle" fill="#141414" textLength="30.3" lengthAdjust="spacing" class="n">Read53</text><rect x="855.5" y="463.5" width="3.6" height="1" fill="#000" fill-opacity="0.22"/><text x="860.1" y="462.5" font-size="8.40" text-anchor="start" fill="#141414" textLength="103.9" lengthAdjust="spacing" class="n">indirectSpecular.0137.exr</text>
<rect x="979" y="415" width="57" height="55" fill="#000" fill-opacity="0.66"/><rect x="980" y="416" width="55" height="53" fill="url(#g_read)"/><rect x="980" y="416" width="55" height="32" fill="#f4f4f4"/><use href="#t_dspec" x="981" y="417" width="53" height="30"/><rect x="981" y="467" width="5" height="2" fill="#ff1010"/><rect x="986" y="467" width="5" height="2" fill="#10e010"/><rect x="991" y="467" width="5" height="2" fill="#1010ff"/><text x="1007.5" y="457.0" font-size="8.40" text-anchor="middle" fill="#141414" textLength="30.3" lengthAdjust="spacing" class="n">Read52</text><rect x="957.1" y="467.5" width="3.6" height="1" fill="#000" fill-opacity="0.22"/><text x="961.7" y="466.5" font-size="8.40" text-anchor="start" fill="#141414" textLength="96.6" lengthAdjust="spacing" class="n">directSpecular.0137.exr</text>
<rect x="881" y="484" width="57" height="13" fill="#000" fill-opacity="0.66"/><rect x="882" y="485" width="55" height="11" fill="url(#g_grade)"/><text x="909.5" y="494.5" font-size="8.40" text-anchor="middle" fill="#141414" textLength="34.4" lengthAdjust="spacing" class="n">Grade32</text><path d="M938 490.5l4 -3v6Z" fill="#0c0c0c"/>
<rect x="881" y="517" width="57" height="13" fill="#000" fill-opacity="0.66"/><rect x="882" y="518" width="55" height="11" fill="url(#g_merge)"/><text x="909.5" y="527.5" font-size="8.40" text-anchor="middle" fill="#141414" textLength="62.7" lengthAdjust="spacing" class="n">Merge51 (over)</text><path d="M878 520.5l4 3l-4 3Z" fill="#0c0c0c"/>
<rect x="979" y="517" width="57" height="13" fill="#000" fill-opacity="0.66"/><rect x="980" y="518" width="55" height="11" fill="url(#g_grade)"/><text x="1007.5" y="527.5" font-size="8.40" text-anchor="middle" fill="#141414" textLength="34.4" lengthAdjust="spacing" class="n">Grade30</text><path d="M1036 523.5l4 -3v6Z" fill="#0c0c0c"/>
<rect x="1106" y="563" width="57" height="55" fill="#000" fill-opacity="0.66"/><rect x="1107" y="564" width="55" height="53" fill="url(#g_read)"/><rect x="1107" y="564" width="55" height="32" fill="#f4f4f4"/><use href="#t_idiff" x="1108" y="565" width="53" height="30"/><rect x="1108" y="615" width="5" height="2" fill="#ff1010"/><rect x="1113" y="615" width="5" height="2" fill="#10e010"/><rect x="1118" y="615" width="5" height="2" fill="#1010ff"/><text x="1134.5" y="605.0" font-size="8.40" text-anchor="middle" fill="#141414" textLength="30.3" lengthAdjust="spacing" class="n">Read98</text><rect x="1083.9" y="615.5" width="3.6" height="1" fill="#000" fill-opacity="0.22"/><text x="1088.5" y="614.5" font-size="8.40" text-anchor="start" fill="#141414" textLength="97.0" lengthAdjust="spacing" class="n">indirectDiffuse.0137.exr</text>
<rect x="1205" y="531" width="57" height="55" fill="#000" fill-opacity="0.66"/><rect x="1206" y="532" width="55" height="53" fill="url(#g_read)"/><rect x="1206" y="532" width="55" height="32" fill="#f4f4f4"/><use href="#t_ddiff" x="1207" y="533" width="53" height="30"/><rect x="1207" y="583" width="5" height="2" fill="#ff1010"/><rect x="1212" y="583" width="5" height="2" fill="#10e010"/><rect x="1217" y="583" width="5" height="2" fill="#1010ff"/><text x="1233.5" y="573.0" font-size="8.40" text-anchor="middle" fill="#141414" textLength="30.3" lengthAdjust="spacing" class="n">Read96</text><rect x="1186.6" y="583.5" width="3.6" height="1" fill="#000" fill-opacity="0.22"/><text x="1191.2" y="582.5" font-size="8.40" text-anchor="start" fill="#141414" textLength="89.8" lengthAdjust="spacing" class="n">directDiffuse.0137.exr</text>
<rect x="1205" y="624" width="57" height="13" fill="#000" fill-opacity="0.66"/><rect x="1206" y="625" width="55" height="11" fill="url(#g_grade)"/><text x="1233.5" y="634.5" font-size="8.40" text-anchor="middle" fill="#141414" textLength="34.4" lengthAdjust="spacing" class="n">Grade52</text><path d="M1262 630.5l4 -3v6Z" fill="#0c0c0c"/>
<rect x="1106" y="642" width="57" height="13" fill="#000" fill-opacity="0.66"/><rect x="1107" y="643" width="55" height="11" fill="url(#g_grade)"/><text x="1134.5" y="652.5" font-size="8.40" text-anchor="middle" fill="#141414" textLength="34.4" lengthAdjust="spacing" class="n">Grade53</text><path d="M1163 648.5l4 -3v6Z" fill="#0c0c0c"/>
<rect x="1106" y="693" width="57" height="13" fill="#000" fill-opacity="0.66"/><rect x="1107" y="694" width="55" height="11" fill="url(#g_merge)"/><text x="1134.5" y="703.5" font-size="8.40" text-anchor="middle" fill="#141414" textLength="62.7" lengthAdjust="spacing" class="n">Merge88 (over)</text><path d="M1103 696.5l4 3l-4 3Z" fill="#0c0c0c"/>
<rect x="918" y="788" width="57" height="55" fill="#000" fill-opacity="0.66"/><rect x="919" y="789" width="55" height="53" fill="url(#g_read)"/><rect x="919" y="789" width="55" height="32" fill="#f4f4f4"/><use href="#t_black" x="920" y="790" width="53" height="30"/><rect x="920" y="840" width="5" height="2" fill="#ff1010"/><rect x="925" y="840" width="5" height="2" fill="#10e010"/><rect x="930" y="840" width="5" height="2" fill="#1010ff"/><text x="946.5" y="830.0" font-size="8.40" text-anchor="middle" fill="#141414" textLength="30.3" lengthAdjust="spacing" class="n">Read85</text><rect x="863.3" y="840.5" width="3.6" height="1" fill="#000" fill-opacity="0.22"/><text x="867.9" y="839.5" font-size="8.40" text-anchor="start" fill="#141414" textLength="162.4" lengthAdjust="spacing" class="n">transmissiveSingleScatterLobe.0137.exr</text>
<rect x="918" y="874" width="57" height="13" fill="#000" fill-opacity="0.66"/><rect x="919" y="875" width="55" height="11" fill="url(#g_merge)"/><text x="946.5" y="884.5" font-size="8.40" text-anchor="middle" fill="#141414" textLength="62.7" lengthAdjust="spacing" class="n">Merge74 (over)</text><path d="M915 877.5l4 3l-4 3Z" fill="#0c0c0c"/>
<rect x="1045" y="852" width="57" height="55" fill="#000" fill-opacity="0.66"/><rect x="1046" y="853" width="55" height="53" fill="url(#g_read)"/><rect x="1046" y="853" width="55" height="32" fill="#f4f4f4"/><use href="#t_black" x="1047" y="854" width="53" height="30"/><rect x="1047" y="904" width="5" height="2" fill="#ff1010"/><rect x="1052" y="904" width="5" height="2" fill="#10e010"/><rect x="1057" y="904" width="5" height="2" fill="#1010ff"/><text x="1073.5" y="894.0" font-size="8.40" text-anchor="middle" fill="#141414" textLength="30.3" lengthAdjust="spacing" class="n">Read84</text><rect x="1034.5" y="904.5" width="3.6" height="1" fill="#000" fill-opacity="0.22"/><text x="1039.1" y="903.5" font-size="8.40" text-anchor="start" fill="#141414" textLength="73.9" lengthAdjust="spacing" class="n">emissive.0137.exr</text>
<rect x="1053" y="939" width="57" height="55" fill="#000" fill-opacity="0.66"/><rect x="1054" y="940" width="55" height="53" fill="url(#g_read)"/><rect x="1054" y="940" width="55" height="32" fill="#f4f4f4"/><use href="#t_black" x="1055" y="941" width="53" height="30"/><rect x="1075" y="991" width="6" height="2" fill="#b020b0"/><text x="1081.5" y="981.0" font-size="8.40" text-anchor="middle" fill="#141414" textLength="30.3" lengthAdjust="spacing" class="n">Read95</text><rect x="1057.8" y="991.5" width="3.6" height="1" fill="#000" fill-opacity="0.22"/><text x="1062.4" y="990.5" font-size="8.40" text-anchor="start" fill="#141414" textLength="43.3" lengthAdjust="spacing" class="n">z.0137.exr</text>
<rect x="908" y="985" width="57" height="55" fill="#000" fill-opacity="0.66"/><rect x="909" y="986" width="55" height="53" fill="url(#g_read)"/><rect x="909" y="986" width="55" height="32" fill="#f4f4f4"/><use href="#t_black" x="910" y="987" width="53" height="30"/><rect x="910" y="1037" width="5" height="2" fill="#ff1010"/><rect x="915" y="1037" width="5" height="2" fill="#10e010"/><rect x="920" y="1037" width="5" height="2" fill="#1010ff"/><text x="936.5" y="1027.0" font-size="8.40" text-anchor="middle" fill="#141414" textLength="30.3" lengthAdjust="spacing" class="n">Read83</text><rect x="893.2" y="1037.5" width="3.6" height="1" fill="#000" fill-opacity="0.22"/><text x="897.8" y="1036.5" font-size="8.40" text-anchor="start" fill="#141414" textLength="82.5" lengthAdjust="spacing" class="n">subsurface.0137.exr</text>
<rect x="1053" y="1026" width="57" height="21" fill="#000" fill-opacity="0.66"/><rect x="1054" y="1027" width="55" height="19" fill="url(#g_grade)"/><text x="1081.5" y="1036.0" font-size="8.40" text-anchor="middle" fill="#141414" textLength="34.4" lengthAdjust="spacing" class="n">Grade55</text><text x="1081.5" y="1045.5" font-size="8.40" text-anchor="middle" fill="#141414" textLength="30.2" lengthAdjust="spacing" class="n">(depth)</text><path d="M1110 1036.5l4 -3v6Z" fill="#0c0c0c"/>
<rect x="1053" y="1080" width="57" height="21" fill="#000" fill-opacity="0.66"/><rect x="1054" y="1081" width="55" height="19" fill="url(#g_zdef)"/><text x="1081.5" y="1090.0" font-size="8.40" text-anchor="middle" fill="#141414" textLength="47.7" lengthAdjust="spacing" class="n">ZDefocus10</text><text x="1081.5" y="1099.5" font-size="8.40" text-anchor="middle" fill="#141414" textLength="30.0" lengthAdjust="spacing" class="n">(result)</text><path d="M1110 1090.5l4 -3v6Z" fill="#0c0c0c"/>
<rect x="908" y="1084" width="57" height="13" fill="#000" fill-opacity="0.66"/><rect x="909" y="1085" width="55" height="11" fill="url(#g_merge)"/><text x="936.5" y="1094.5" font-size="8.40" text-anchor="middle" fill="#141414" textLength="62.7" lengthAdjust="spacing" class="n">Merge73 (over)</text><path d="M905 1087.5l4 3l-4 3Z" fill="#0c0c0c"/>
<ellipse cx="251.5" cy="186.5" rx="3.6" ry="3.2" fill="#bdbdbd" stroke="#1a1a1a" stroke-width="1"/>
<ellipse cx="338.5" cy="485.5" rx="3.6" ry="3.2" fill="#bdbdbd" stroke="#1a1a1a" stroke-width="1"/>
<ellipse cx="620.5" cy="863.5" rx="3.6" ry="3.2" fill="#bdbdbd" stroke="#1a1a1a" stroke-width="1"/>
<ellipse cx="1233.5" cy="699.5" rx="3.6" ry="3.2" fill="#bdbdbd" stroke="#1a1a1a" stroke-width="1"/>
<line x1="385" y1="1139" x2="393.625" y2="1155.12" stroke="#0e0c10" stroke-width="1.6"/>
<path d="M396.50 1160.50L390.91 1155.55L395.49 1153.10Z" fill="#0c0c0c"/>
<line x1="1063" y1="1059" x2="1071.62" y2="1074" stroke="#0e0c10" stroke-width="1.6"/>
<path d="M1074.50 1079.00L1068.76 1074.23L1073.26 1071.64Z" fill="#0c0c0c"/>
<text x="44.0" y="336.5" font-size="7.00" text-anchor="middle" fill="#f2b468" textLength="4.5" lengthAdjust="spacing">B</text>
<text x="44.0" y="504.5" font-size="7.00" text-anchor="middle" fill="#f2b468" textLength="4.5" lengthAdjust="spacing">B</text>
<text x="44.0" y="590.5" font-size="7.00" text-anchor="middle" fill="#f2b468" textLength="4.5" lengthAdjust="spacing">B</text>
<text x="44.0" y="850.5" font-size="7.00" text-anchor="middle" fill="#f2b468" textLength="4.5" lengthAdjust="spacing">B</text>
<text x="44.0" y="947.5" font-size="7.00" text-anchor="middle" fill="#f2b468" textLength="4.5" lengthAdjust="spacing">B</text>
<text x="44.0" y="1158.5" font-size="7.00" text-anchor="middle" fill="#f2b468" textLength="4.5" lengthAdjust="spacing">B</text>
<text x="83.0" y="355.0" font-size="7.00" text-anchor="middle" fill="#f2b468" textLength="4.5" lengthAdjust="spacing">A</text>
<text x="83.0" y="522.0" font-size="7.00" text-anchor="middle" fill="#f2b468" textLength="4.5" lengthAdjust="spacing">A</text>
<text x="83.0" y="608.0" font-size="7.00" text-anchor="middle" fill="#f2b468" textLength="4.5" lengthAdjust="spacing">A</text>
<text x="83.0" y="868.5" font-size="7.00" text-anchor="middle" fill="#f2b468" textLength="4.5" lengthAdjust="spacing">A</text>
<text x="83.0" y="965.5" font-size="7.00" text-anchor="middle" fill="#f2b468" textLength="4.5" lengthAdjust="spacing">A</text>
<text x="83.0" y="1176.5" font-size="7.00" text-anchor="middle" fill="#f2b468" textLength="4.5" lengthAdjust="spacing">A</text>
<text x="212.5" y="326.0" font-size="7.00" text-anchor="middle" fill="#f2b468" textLength="4.5" lengthAdjust="spacing">A</text>
<text x="251.0" y="304.5" font-size="7.00" text-anchor="middle" fill="#f2b468" textLength="4.5" lengthAdjust="spacing">B</text>
<text x="223.0" y="468.5" font-size="7.00" text-anchor="middle" fill="#f2b468" textLength="4.5" lengthAdjust="spacing">B</text>
<text x="262.0" y="490.0" font-size="7.00" text-anchor="middle" fill="#f2b468" textLength="4.5" lengthAdjust="spacing">A</text>
<text x="504.0" y="590.5" font-size="7.00" text-anchor="middle" fill="#f2b468" textLength="4.5" lengthAdjust="spacing">B</text>
<text x="543.0" y="608.0" font-size="7.00" text-anchor="middle" fill="#f2b468" textLength="4.5" lengthAdjust="spacing">A</text>
<text x="521.0" y="850.5" font-size="7.00" text-anchor="middle" fill="#f2b468" textLength="4.5" lengthAdjust="spacing">B</text>
<text x="560.0" y="868.0" font-size="7.00" text-anchor="middle" fill="#f2b468" textLength="4.5" lengthAdjust="spacing">A</text>
<text x="258.0" y="947.5" font-size="7.00" text-anchor="middle" fill="#f2b468" textLength="4.5" lengthAdjust="spacing">B</text>
<text x="295.0" y="965.0" font-size="7.00" text-anchor="middle" fill="#f2b468" textLength="4.5" lengthAdjust="spacing">A</text>
<text x="258.0" y="1158.5" font-size="7.00" text-anchor="middle" fill="#f2b468" textLength="4.5" lengthAdjust="spacing">B</text>
<text x="297.0" y="1176.0" font-size="7.00" text-anchor="middle" fill="#f2b468" textLength="4.5" lengthAdjust="spacing">A</text>
<text x="722.0" y="511.5" font-size="7.00" text-anchor="middle" fill="#f2b468" textLength="4.5" lengthAdjust="spacing">B</text>
<text x="722.0" y="686.5" font-size="7.00" text-anchor="middle" fill="#f2b468" textLength="4.5" lengthAdjust="spacing">B</text>
<text x="722.0" y="867.5" font-size="7.00" text-anchor="middle" fill="#f2b468" textLength="4.5" lengthAdjust="spacing">B</text>
<text x="722.0" y="1077.5" font-size="7.00" text-anchor="middle" fill="#f2b468" textLength="4.5" lengthAdjust="spacing">B</text>
<text x="761.0" y="529.0" font-size="7.00" text-anchor="middle" fill="#f2b468" textLength="4.5" lengthAdjust="spacing">A</text>
<text x="761.0" y="704.5" font-size="7.00" text-anchor="middle" fill="#f2b468" textLength="4.5" lengthAdjust="spacing">A</text>
<text x="761.0" y="885.5" font-size="7.00" text-anchor="middle" fill="#f2b468" textLength="4.5" lengthAdjust="spacing">A</text>
<text x="761.0" y="1095.5" font-size="7.00" text-anchor="middle" fill="#f2b468" textLength="4.5" lengthAdjust="spacing">A</text>
<text x="909.0" y="510.5" font-size="7.00" text-anchor="middle" fill="#f2b468" textLength="4.5" lengthAdjust="spacing">B</text>
<text x="948.0" y="528.0" font-size="7.00" text-anchor="middle" fill="#f2b468" textLength="4.5" lengthAdjust="spacing">A</text>
<text x="1134.0" y="686.5" font-size="7.00" text-anchor="middle" fill="#f2b468" textLength="4.5" lengthAdjust="spacing">B</text>
<text x="1173.0" y="704.0" font-size="7.00" text-anchor="middle" fill="#f2b468" textLength="4.5" lengthAdjust="spacing">A</text>
<text x="946.0" y="867.5" font-size="7.00" text-anchor="middle" fill="#f2b468" textLength="4.5" lengthAdjust="spacing">B</text>
<text x="985.0" y="885.0" font-size="7.00" text-anchor="middle" fill="#f2b468" textLength="4.5" lengthAdjust="spacing">A</text>
<text x="936.0" y="1077.5" font-size="7.00" text-anchor="middle" fill="#f2b468" textLength="4.5" lengthAdjust="spacing">B</text>
<text x="975.0" y="1095.0" font-size="7.00" text-anchor="middle" fill="#f2b468" textLength="4.5" lengthAdjust="spacing">A</text>
<text x="23.0" y="540.7" font-size="7.00" text-anchor="start" fill="#f2b468" textLength="18.1" lengthAdjust="spacing">Noise</text>
<text x="20.5" y="553.7" font-size="7.00" text-anchor="end" fill="#f2b468" textLength="22.2" lengthAdjust="spacing">Motion</text>
<text x="40.0" y="549.8" font-size="7.00" text-anchor="start" fill="#f2b468" textLength="22.9" lengthAdjust="spacing">Source</text>
<text x="701.0" y="432.7" font-size="7.00" text-anchor="start" fill="#f2b468" textLength="18.1" lengthAdjust="spacing">Noise</text>
<text x="698.5" y="445.7" font-size="7.00" text-anchor="end" fill="#f2b468" textLength="22.2" lengthAdjust="spacing">Motion</text>
<text x="718.0" y="441.8" font-size="7.00" text-anchor="start" fill="#f2b468" textLength="22.9" lengthAdjust="spacing">Source</text>
<text x="1055.0" y="1068.0" font-size="7.00" text-anchor="start" fill="#f0b4f0" textLength="15.3" lengthAdjust="spacing">filter</text>
<text x="1076.0" y="1075.0" font-size="7.00" text-anchor="start" fill="#f0b4f0" textLength="20.2" lengthAdjust="spacing">image</text>
<text x="377.0" y="1146.0" font-size="7.00" text-anchor="start" fill="#f0d090" textLength="15.3" lengthAdjust="spacing">filter</text>
<rect x="1380" y="0" width="1" height="1206" fill="#000"/>
<rect x="1381" y="0" width="1" height="1206" fill="#494949"/>
<rect x="1382" y="0" width="1" height="1206" fill="#333"/>
<rect x="1383" y="0" width="2" height="1206" fill="#c4c4c4"/>
</svg></body></html>
